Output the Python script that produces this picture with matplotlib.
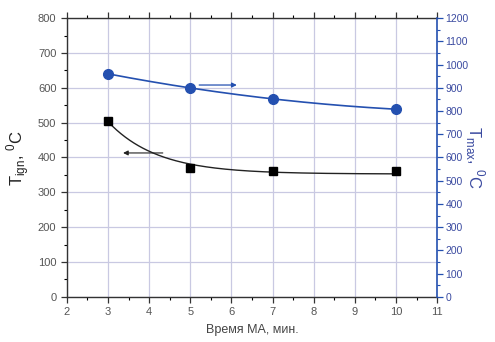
import numpy as np
import matplotlib.pyplot as plt
from matplotlib.ticker import MultipleLocator

plt.rcParams['font.family'] = ['Liberation Sans', 'DejaVu Sans']
plt.rcParams['mathtext.fontset'] = 'custom'
plt.rcParams['mathtext.rm'] = 'Liberation Sans'

# Data
time_ma = [3, 5, 7, 10]
t_ign = [505, 370, 360, 360]
t_max = [960, 900, 852, 808]

x_ticks = list(range(2, 12))
left_ticks = list(range(0, 801, 100))
right_ticks = list(range(0, 1201, 100))

blue = '#2450b0'
tick_blue = '#3a4aa0'
grid_c = '#c9c9e2'

fig = plt.figure(figsize=(4.95, 3.42), dpi=100)
ax = fig.add_axes([0.135, 0.132, 0.748, 0.815])
ax2 = ax.twinx()

# smooth decay curve for the ignition temperature (fixed decay length, fitted levels)
xs = np.array(time_ma, float)
ys = np.array(t_ign, float)
tau = 1.2
e = np.exp(-(xs - xs[0]) / tau)
A = np.vstack([np.ones_like(e), e]).T
coef = np.linalg.lstsq(A, ys, rcond=None)[0]
xf = np.linspace(3, 10, 200)
ax.plot(xf, coef[0] + coef[1] * np.exp(-(xf - 3) / tau), color='#222222', lw=1.0, zorder=3)
ax.plot(time_ma, t_ign, 's', color='black', ms=6, zorder=4)

# gentle curve for the max temperature
p = np.polyfit(time_ma, t_max, 2)
ax2.plot(xf, np.polyval(p, xf), color=blue, lw=1.2, zorder=3)
ax2.plot(time_ma, t_max, 'o', color=blue, ms=7, zorder=4)

# arrows pointing to the axes
ax.annotate('', xy=(3.3, 413), xytext=(4.4, 413),
            arrowprops=dict(arrowstyle='-|>', color='#222222', lw=0.8, mutation_scale=7))
ax2.annotate('', xy=(6.2, 912), xytext=(5.15, 912),
             arrowprops=dict(arrowstyle='-|>', color=blue, lw=0.9, mutation_scale=7))

ax.set_xlim(2, 11)
ax.set_ylim(0, 800)
ax2.set_ylim(0, 1200)
ax.set_xticks(x_ticks)
ax.set_yticks(left_ticks)
ax2.set_yticks(right_ticks)
ax.xaxis.set_minor_locator(MultipleLocator(0.5))
ax.yaxis.set_minor_locator(MultipleLocator(50))
ax2.yaxis.set_minor_locator(MultipleLocator(50))

ax.grid(True, which='major', color=grid_c, lw=0.9)
ax.set_axisbelow(True)

ax.tick_params(axis='both', which='major', labelsize=8, colors='#333333', length=4, width=0.9,
               direction='out', top=True)
ax.tick_params(axis='both', which='minor', length=2, width=0.8, top=True)
ax.tick_params(axis='x', labelcolor='#555555')
ax.tick_params(axis='y', labelcolor='#555555')
ax2.tick_params(axis='y', which='major', labelsize=7.5, colors=blue, labelcolor=tick_blue,
                length=4, width=0.9, pad=2)
ax2.tick_params(axis='y', which='minor', colors=blue, length=2, width=0.8)

for s in ['left', 'bottom', 'top']:
    ax.spines[s].set_color('#333333')
    ax.spines[s].set_linewidth(1.0)
ax2.spines['right'].set_color(blue)
ax2.spines['right'].set_linewidth(1.2)
ax2.spines['left'].set_visible(False)
ax2.spines['top'].set_visible(False)
ax2.spines['bottom'].set_visible(False)
ax.spines['right'].set_visible(False)

ax.set_xlabel('Время МА, мин.', fontsize=9, color='#444444', labelpad=5)
ax.set_ylabel(r'T$_{\mathrm{ign}}$, $^{\mathrm{0}}$C', fontsize=12, color='#222222', labelpad=4)
ax2.set_ylabel(r'T$_{\mathrm{max}}$, $^{\mathrm{0}}$C', fontsize=12, color=tick_blue,
               rotation=-90, labelpad=13)

fig.savefig('out.png', dpi=100)
